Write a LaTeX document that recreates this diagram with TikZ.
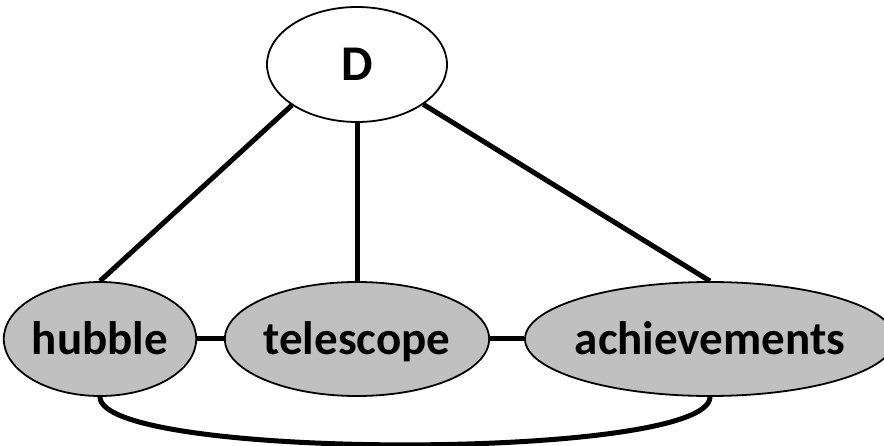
\documentclass[tikz,border=0pt]{standalone}
\usepackage{fontspec}
\setmainfont{Carlito}
\usetikzlibrary{shapes.geometric}
\definecolor{termgray}{RGB}{192,192,192}
\tikzset{
  term/.style={ellipse, draw=black, line width=1.8pt, fill=termgray, inner sep=0pt,
    minimum height=114pt, text height=33pt, text depth=1pt,
    font=\fontsize{47}{56}\selectfont\bfseries},
  doc/.style={term, fill=white, font=\fontsize{50}{60}\selectfont\bfseries},
  link/.style={line width=5pt, black}
}
\begin{document}
\begin{tikzpicture}[x=1pt, y=-1pt]
  \useasboundingbox (0,0) rectangle (884,446);
  % document node and the three term nodes
  \node[doc, minimum width=180pt, minimum height=115pt] (D) at (357,64.5) {D};
  \node[term, minimum width=178pt] (hubble) at (100,339) {hubble};
  \node[term, minimum width=242pt] (telescope) at (357,339) {telescope};
  \node[term, minimum width=370pt, inner xsep=-8pt] (achievements) at (710,339) {achievements};
  % connectors
  \draw[link] (D.212) -- (hubble.north);
  \draw[link] (D.south) -- (telescope.north);
  \draw[link] (D.329) -- (achievements.north);
  \draw[link] (hubble.east) -- (telescope.west);
  \draw[link] (telescope.east) -- (achievements.west);
  \draw[link] (hubble.south) .. controls +(0,64) and +(0,64) .. (achievements.south);
\end{tikzpicture}
\end{document}
